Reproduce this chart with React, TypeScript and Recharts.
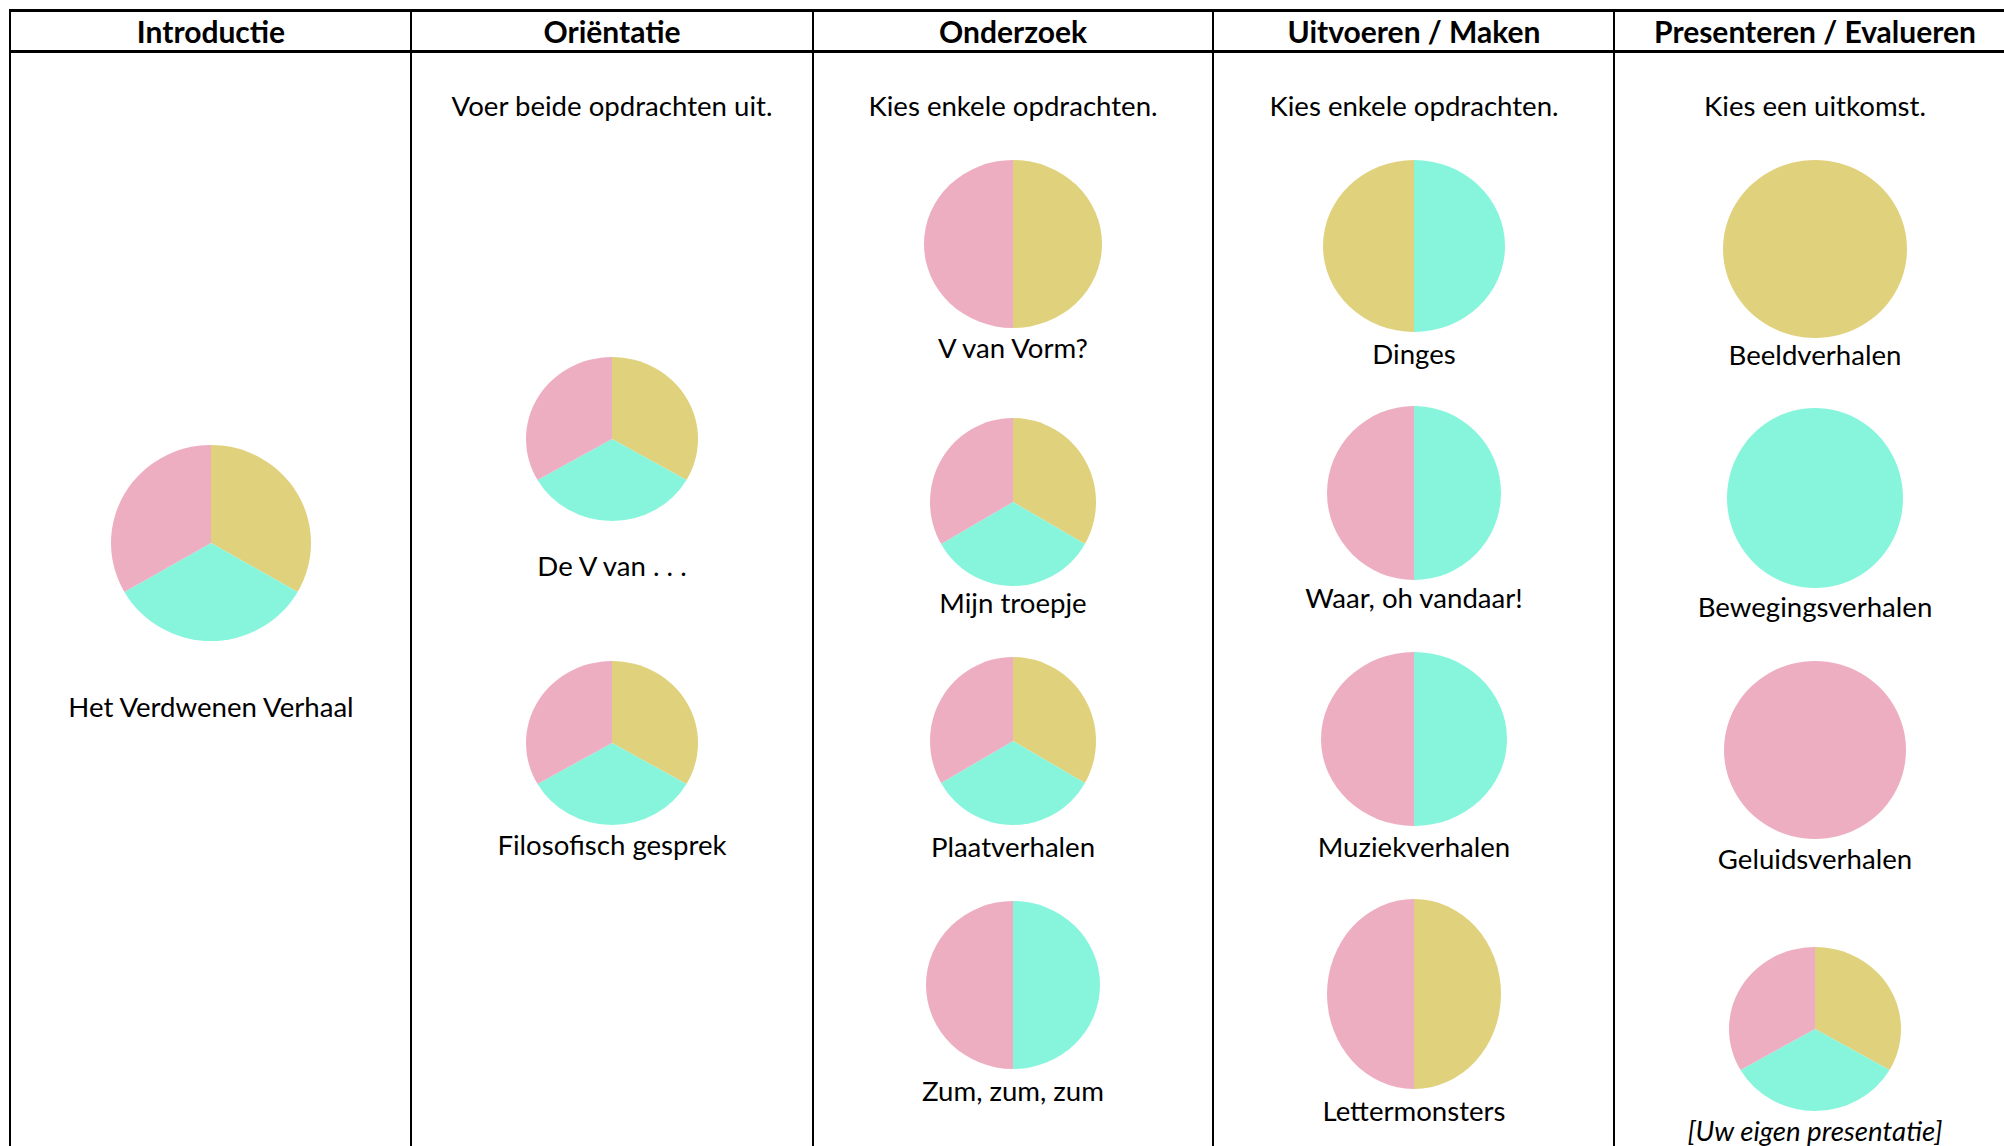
import { PieChart, Pie, Cell } from "recharts";

const PHASES = [
  "Introductie",
  "Oriëntatie",
  "Onderzoek",
  "Uitvoeren / Maken",
  "Presenteren / Evalueren",
];

const INSTRUCTIONS = [
  "",
  "Voer beide opdrachten uit.",
  "Kies enkele opdrachten.",
  "Kies enkele opdrachten.",
  "Kies een uitkomst.",
];

const ACTIVITIES = [
  ["Het Verdwenen Verhaal"],
  ["De V van . . .", "Filosofisch gesprek"],
  ["V van Vorm?", "Mijn troepje", "Plaatverhalen", "Zum, zum, zum"],
  ["Dinges", "Waar, oh vandaar!", "Muziekverhalen", "Lettermonsters"],
  ["Beeldverhalen", "Bewegingsverhalen", "Geluidsverhalen", "[Uw eigen presentatie]"],
];

// strands per activity, clockwise from 12 o'clock
const SLICES = [
  [["beeld", "beweging", "geluid"]],
  [["beeld", "beweging", "geluid"], ["beeld", "beweging", "geluid"]],
  [["beeld", "geluid"], ["beeld", "beweging", "geluid"], ["beeld", "beweging", "geluid"], ["beweging", "geluid"]],
  [["beweging", "beeld"], ["beweging", "geluid"], ["beweging", "geluid"], ["beeld", "geluid"]],
  [["beeld"], ["beweging"], ["geluid"], ["beeld", "beweging", "geluid"]],
];

const STRAND_COLORS: Record<string, string> = {
  beeld: "#e0d17d",
  beweging: "#86f5dc",
  geluid: "#edaec2",
};

// layout: column centres and per-pie centre / radii / label position
const COL_X = [211, 612, 1013, 1414, 1815];
const COL_EDGES = [10, 411, 813, 1213, 1614];
const PIE_CY = [[543], [439, 743], [244, 502, 741, 985], [246, 493, 739, 994], [249, 498, 750, 1029]];
const PIE_RX = [[100], [86, 86], [89, 83, 83, 87], [91, 87, 93, 87], [92, 88, 91, 86]];
const PIE_RY = [[98], [82, 82], [84, 84, 84, 84], [86, 87, 87, 95], [89, 90, 89, 82]];
const LABEL_Y = [[707], [566, 845], [348, 603, 847, 1091], [354, 598, 847, 1111], [355, 607, 859, 1131]];

const FONT = "Lato, 'Open Sans', sans-serif";

function Ellipse({ strands, cx, cy, rx, ry }: { strands: string[]; cx: number; cy: number; rx: number; ry: number }) {
  const data = strands.map((s) => ({ name: s, value: 1 }));
  return (
    <div
      style={{
        position: "absolute",
        left: cx - rx,
        top: cy - ry,
        width: rx * 2,
        height: rx * 2,
        transform: `scaleY(${ry / rx})`,
        transformOrigin: "0 0",
      }}
    >
      <PieChart width={rx * 2} height={rx * 2} margin={{ top: 0, right: 0, bottom: 0, left: 0 }}>
        <Pie
          data={data}
          dataKey="value"
          cx="50%"
          cy="50%"
          outerRadius={rx}
          innerRadius={0}
          startAngle={90}
          endAngle={-270}
          stroke="none"
          isAnimationActive={false}
        >
          {data.map((d) => (
            <Cell key={d.name} fill={STRAND_COLORS[d.name]} stroke="none" />
          ))}
        </Pie>
      </PieChart>
    </div>
  );
}

function Text({ x, y, children, bold, italic }: { x: number; y: number; children: string; bold?: boolean; italic?: boolean }) {
  return (
    <div
      style={{
        position: "absolute",
        left: x - 200,
        top: y - 20,
        width: 400,
        height: 40,
        lineHeight: "40px",
        textAlign: "center",
        fontFamily: FONT,
        fontSize: bold ? 30 : 27.6,
        fontWeight: bold ? 700 : 400,
        fontStyle: italic ? "italic" : "normal",
        color: "#000",
        whiteSpace: "nowrap",
      }}
    >
      {children}
    </div>
  );
}

export default function App() {
  return (
    <div
      style={{
        position: "absolute",
        left: 0,
        top: 0,
        width: 2004,
        height: 1146,
        overflow: "hidden",
        background: "#fff",
      }}
    >
      {/* table rules */}
      <div style={{ position: "absolute", left: 9, top: 9, width: 2010, height: 3, background: "#000" }} />
      <div style={{ position: "absolute", left: 9, top: 50, width: 2010, height: 3, background: "#000" }} />
      {COL_EDGES.map((x) => (
        <div key={x} style={{ position: "absolute", left: x - 1, top: 9, width: 2, height: 1150, background: "#000" }} />
      ))}

      {PHASES.map((p, i) => (
        <Text key={p} x={COL_X[i]} y={31} bold>
          {p}
        </Text>
      ))}
      {INSTRUCTIONS.map((t, i) =>
        t ? (
          <Text key={i} x={COL_X[i]} y={106}>
            {t}
          </Text>
        ) : null
      )}

      {ACTIVITIES.map((col, i) =>
        col.map((name, j) => (
          <div key={name}>
            <Ellipse strands={SLICES[i][j]} cx={COL_X[i]} cy={PIE_CY[i][j]} rx={PIE_RX[i][j]} ry={PIE_RY[i][j]} />
            <Text x={COL_X[i]} y={LABEL_Y[i][j]} italic={name.startsWith("[")}>
              {name}
            </Text>
          </div>
        ))
      )}
    </div>
  );
}
